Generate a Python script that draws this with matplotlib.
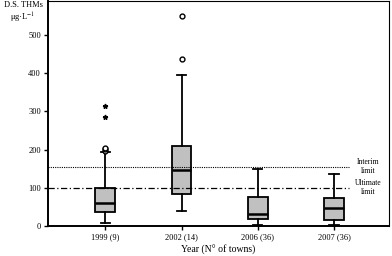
import matplotlib
matplotlib.use("Agg")
import matplotlib.pyplot as plt

plt.rcParams['font.family'] = ['Liberation Serif', 'DejaVu Serif']
plt.rcParams['mathtext.fontset'] = 'stix'

categories = ["1999 (9)", "2002 (14)", "2006 (36)", "2007 (36)"]
whisker_low = [8, 40, 2, 2]
q1 = [37, 85, 18, 17]
median = [59, 146, 32, 46]
q3 = [99, 209, 75, 72]
whisker_high = [193, 395, 148, 136]
outliers = [[196, 201, 205], [438, 550], [], []]
extremes = [[286, 314], [], [], []]
interim_limit = 155
ultimate_limit = 100

stats = []
for i, c in enumerate(categories):
    stats.append(dict(label=c, whislo=whisker_low[i], q1=q1[i], med=median[i],
                      q3=q3[i], whishi=whisker_high[i], fliers=[]))

fig = plt.figure(figsize=(3.92, 2.56), dpi=100)
ax = fig.add_axes([48/392, 30/256, (389-48)/392, (225)/256])
pos = [1, 2, 3, 4]
ax.bxp(stats, positions=pos, widths=0.26, patch_artist=True, showfliers=False,
       boxprops=dict(facecolor='#c0c0c0', edgecolor='black', linewidth=1.3),
       medianprops=dict(color='black', linewidth=1.8),
       whiskerprops=dict(color='black', linewidth=1.3),
       capprops=dict(color='black', linewidth=1.3), capwidths=0.12)
for p, o in zip(pos, outliers):
    if o:
        ax.plot([p]*len(o), o, 'o', mfc='white', mec='black', ms=3.5, mew=1)
for p, e in zip(pos, extremes):
    if e:
        ax.plot([p]*len(e), e, '*', color='black', ms=3.5)

ax.plot([0.25, 4.2], [interim_limit]*2, color='black', linestyle=(0, (1, 1)), lw=0.8)
ax.plot([0.25, 4.2], [ultimate_limit]*2, color='black', linestyle=(0, (5, 2, 1, 2)), lw=0.9)
ax.text(4.45, interim_limit, "Interim\nlimit", fontsize=5.5, ha='center', va='center', linespacing=1.1)
ax.text(4.45, ultimate_limit, "Ultimate\nlimit", fontsize=5.5, ha='center', va='center', linespacing=1.1)

ax.set_xlim(0.25, 4.72)
ax.set_ylim(0, 589)
ax.set_yticks([0, 100, 200, 300, 400, 500])
ax.set_xticks(pos)
ax.set_xticklabels(categories)
ax.tick_params(axis='both', labelsize=6, length=3, width=1, direction='out', pad=2)
for s in ['left', 'bottom']:
    ax.spines[s].set_linewidth(1.4)
for s in ['top', 'right']:
    ax.spines[s].set_linewidth(0.8)
ax.set_xlabel("Year (N° of towns)", fontsize=7, labelpad=3)
fig.text(23/392, 1 - 1/256, "D.S. THMs", fontsize=6, ha='center', va='top')
fig.text(23/392, 1 - 11/256, "μg·L$^{-1}$", fontsize=6, ha='center', va='top')

fig.savefig("out.png", dpi=100)
